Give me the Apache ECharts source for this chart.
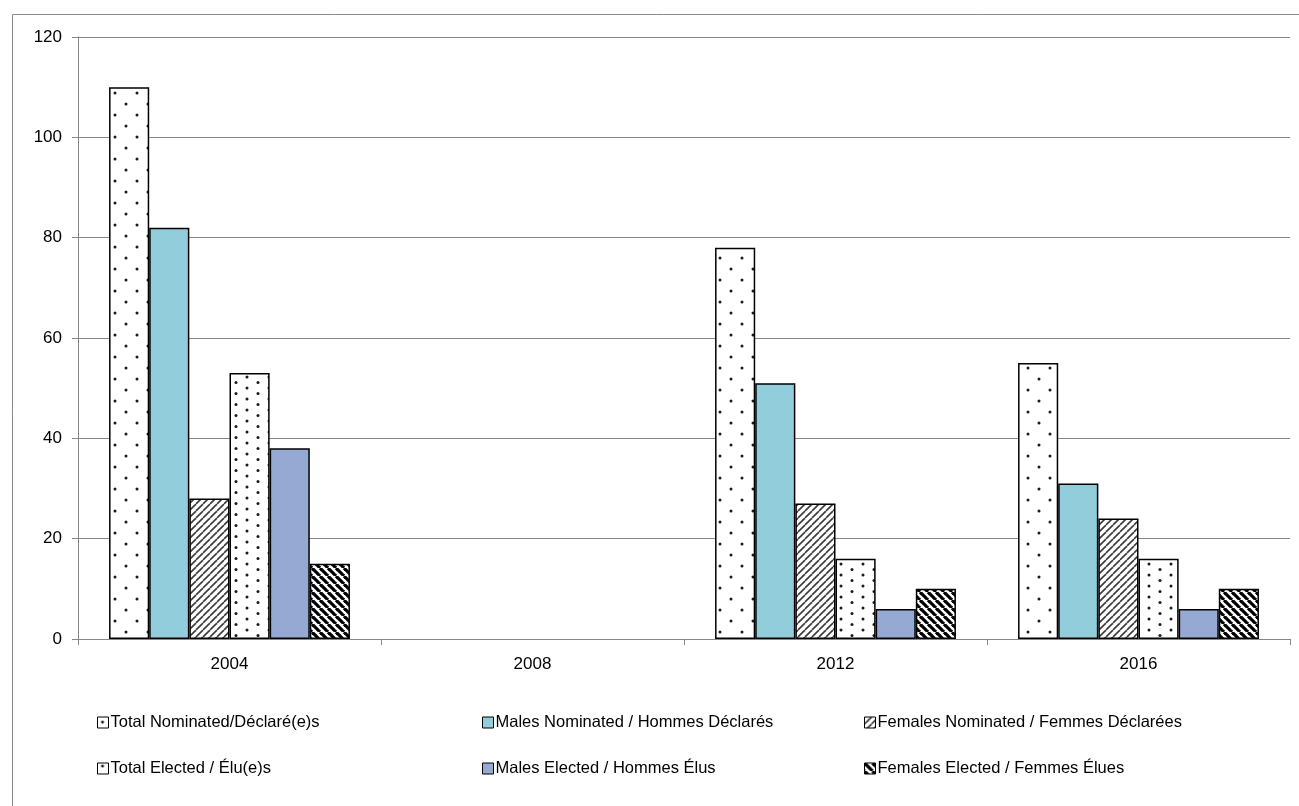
<!DOCTYPE html>
<html>
<head>
<meta charset="utf-8">
<script src="https://cdn.jsdelivr.net/npm/echarts@6/dist/echarts.min.js"></script>
<style>
html,body{margin:0;padding:0;background:#fff;}
#chart{width:1299px;height:806px;}
</style>
</head>
<body>
<div id="chart"></div>
<script>
// ---- Data ----
const categories = ['2004', '2008', '2012', '2016'];
const seriesNames = [
  'Total Nominated/Déclaré(e)s',
  'Males Nominated / Hommes Déclarés',
  'Females Nominated / Femmes Déclarées',
  'Total Elected / Élu(e)s',
  'Males Elected / Hommes Élus',
  'Females Elected / Femmes Élues'
];
const totalNominated   = [110, null, 78, 55];
const malesNominated   = [82, null, 51, 31];
const femalesNominated = [28, null, 27, 24];
const totalElected     = [53, null, 16, 16];
const malesElected     = [38, null, 6, 6];
const femalesElected   = [15, null, 10, 10];
const yTicks = [0, 20, 40, 60, 80, 100, 120];

// ---- Patterns ----
function makeTile(w, h, draw) {
  const c = document.createElement('canvas');
  c.width = w; c.height = h;
  const ctx = c.getContext('2d');
  ctx.fillStyle = '#ffffff';
  ctx.fillRect(0, 0, w, h);
  draw(ctx, w, h);
  return c;
}
function dot(ctx, x, y) {
  ctx.fillStyle = '#1a1a1a';
  ctx.beginPath();
  ctx.arc(x, y, 1.5, 0, Math.PI * 2);
  ctx.fill();
}
const sparseDots = makeTile(22, 22, (ctx) => { dot(ctx, 5, 5); dot(ctx, 16, 16); });
const denseDots = makeTile(22, 11, (ctx) => { dot(ctx, 5, 3); dot(ctx, 16, 8.5); });
const fwdHatch = makeTile(7, 7, (ctx, w, h) => {
  ctx.strokeStyle = '#3a3a3a';
  ctx.lineWidth = 1.6;
  for (let k = -1; k <= 1; k++) {
    ctx.beginPath();
    ctx.moveTo(k * w, h);
    ctx.lineTo(k * w + w, 0);
    ctx.stroke();
  }
});
const backHatch = makeTile(8, 8, (ctx, w, h) => {
  ctx.strokeStyle = '#000';
  ctx.lineWidth = 3.2;
  for (let k = -1; k <= 1; k++) {
    ctx.beginPath();
    ctx.moveTo(k * w, 0);
    ctx.lineTo(k * w + w, h);
    ctx.stroke();
  }
});
const pat = (c) => ({ image: c, repeat: 'repeat' });

const fills = [
  pat(sparseDots),
  '#92CDDC',
  pat(fwdHatch),
  pat(denseDots),
  '#95A9D3',
  pat(backHatch)
];
const dataArrays = [totalNominated, malesNominated, femalesNominated, totalElected, malesElected, femalesElected];

const series = seriesNames.map((name, i) => ({
  name: name,
  type: 'bar',
  data: dataArrays[i],
  barGap: '0%',
  barCategoryGap: '20.5%',
  itemStyle: { color: fills[i], borderColor: '#000', borderWidth: 1.5 },
  emphasis: { disabled: true }
}));

const font = 'Liberation Sans, Arial, sans-serif';
const legendPos = [
  { left: 92, top: 709 }, { left: 477, top: 709 }, { left: 859, top: 709 },
  { left: 92, top: 755 }, { left: 477, top: 755 }, { left: 859, top: 755 }
];
const legends = seriesNames.map((name, i) => ({
  data: [name],
  left: legendPos[i].left,
  top: legendPos[i].top,
  itemWidth: 11,
  itemHeight: 11,
  itemGap: 4,
  icon: 'rect',
  selectedMode: false,
  itemStyle: { borderColor: '#000', borderWidth: 1 },
  textStyle: { fontFamily: font, fontSize: 16.5, color: '#000', padding: [0, 0, 0, -3] }
}));

const chart = echarts.init(document.getElementById('chart'), null, { renderer: 'canvas' });
chart.setOption({
  backgroundColor: '#fff',
  animation: false,
  graphic: [{
    type: 'rect',
    shape: { x: 12.5, y: 14.5, width: 1400, height: 900 },
    style: { fill: 'none', stroke: '#8a8a8a', lineWidth: 1 },
    silent: true
  }],
  legend: legends,
  grid: { left: 78, right: 9, top: 37, bottom: 167, containLabel: false },
  xAxis: {
    type: 'category',
    data: categories,
    axisLine: { lineStyle: { color: '#868686', width: 1 } },
    axisTick: { show: true, alignWithLabel: false, length: 6, lineStyle: { color: '#868686' } },
    axisLabel: { color: '#000', fontFamily: font, fontSize: 17, margin: 17 }
  },
  yAxis: {
    type: 'value',
    min: yTicks[0],
    max: yTicks[yTicks.length - 1],
    interval: 20,
    axisLine: { show: true, lineStyle: { color: '#868686', width: 1 } },
    axisTick: { show: true, length: 6, lineStyle: { color: '#868686' } },
    axisLabel: { color: '#000', fontFamily: font, fontSize: 17, margin: 16 },
    splitLine: { show: true, lineStyle: { color: '#868686', width: 1 } }
  },
  series: series
});
</script>
</body>
</html>
